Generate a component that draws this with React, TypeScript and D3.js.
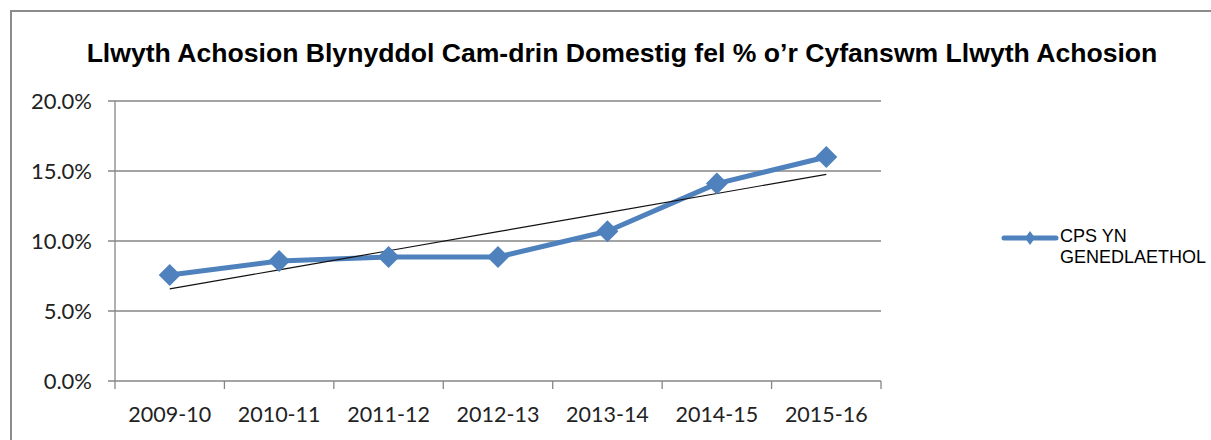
import React, { useEffect, useRef } from "react";
import * as d3 from "d3";

// chart data
const years = ["2009-10", "2010-11", "2011-12", "2012-13", "2013-14", "2014-15", "2015-16"];
const cpsValues = [0.0757, 0.0857, 0.0886, 0.0886, 0.107, 0.141, 0.16];
const yTicks = [0, 0.05, 0.1, 0.15, 0.2];
const seriesName = ["CPS YN", "GENEDLAETHOL"];
const title = "Llwyth Achosion Blynyddol Cam-drin Domestig fel % o’r Cyfanswm Llwyth Achosion";

const App = () => {
  const ref = useRef<SVGSVGElement | null>(null);
  const width = 1211;
  const height = 440;
  const plot = { left: 115, right: 881, top: 101, bottom: 381 };

  const drawChart = () => {
    const svg = d3.select(ref.current);
    const axisColor = "#868686";
    const blue = "#4F81BD";

    // chart frame
    svg
      .append("path")
      .attr("d", `M11,${height} L11,11 L${width},11`)
      .attr("fill", "none")
      .attr("stroke", "#8c8c8c")
      .attr("stroke-width", 2);

    // title
    svg
      .append("text")
      .attr("x", 622)
      .attr("y", 62)
      .attr("text-anchor", "middle")
      .attr("font-family", "Liberation Sans, Arial, sans-serif")
      .attr("font-weight", "bold")
      .attr("font-size", 26.6)
      .attr("fill", "#000")
      .text(title);

    const xScale = d3.scaleBand().domain(years).range([plot.left, plot.right]).padding(0);
    const yScale = d3.scaleLinear().domain([0, 0.2]).range([plot.bottom, plot.top]);
    const cx = (d: string) => (xScale(d) as number) + xScale.bandwidth() / 2;

    // y grid
    svg
      .append("g")
      .selectAll("line")
      .data(yTicks)
      .enter()
      .append("line")
      .attr("x1", plot.left - 7)
      .attr("x2", plot.right)
      .attr("y1", (d) => yScale(d))
      .attr("y2", (d) => yScale(d))
      .attr("stroke", axisColor)
      .attr("stroke-width", 1.3);

    // y axis line
    svg
      .append("line")
      .attr("x1", plot.left)
      .attr("x2", plot.left)
      .attr("y1", plot.top)
      .attr("y2", plot.bottom)
      .attr("stroke", axisColor)
      .attr("stroke-width", 1.3);

    // y labels
    svg
      .append("g")
      .selectAll("text")
      .data(yTicks)
      .enter()
      .append("text")
      .attr("x", 92)
      .attr("y", (d) => yScale(d))
      .attr("dy", "0.36em")
      .attr("text-anchor", "end")
      .attr("font-family", "Lato, sans-serif")
      .attr("font-size", 22)
      .attr("fill", "#222")
      .text((d) => d3.format(".1%")(d));

    // x ticks at band edges
    const edges = years.map((d) => xScale(d) as number).concat([plot.right]);
    svg
      .append("g")
      .selectAll("line")
      .data(edges)
      .enter()
      .append("line")
      .attr("x1", (d) => d)
      .attr("x2", (d) => d)
      .attr("y1", plot.bottom)
      .attr("y2", plot.bottom + 8)
      .attr("stroke", axisColor)
      .attr("stroke-width", 1.3);

    // x labels
    svg
      .append("g")
      .selectAll("text")
      .data(years)
      .enter()
      .append("text")
      .attr("x", (d) => cx(d))
      .attr("y", 422)
      .attr("text-anchor", "middle")
      .attr("font-family", "Lato, sans-serif")
      .attr("font-size", 21.5)
      .attr("fill", "#222")
      .text((d) => d);

    // series line
    const line = d3
      .line<number>()
      .x((d, i) => cx(years[i]))
      .y((d) => yScale(d));

    svg
      .append("path")
      .datum(cpsValues)
      .attr("fill", "none")
      .attr("stroke", blue)
      .attr("stroke-width", 5)
      .attr("stroke-linejoin", "round")
      .attr("d", line);

    // linear trend line (least squares of the series)
    const n = cpsValues.length;
    const xs = d3.range(1, n + 1);
    const mx = d3.mean(xs) as number;
    const my = d3.mean(cpsValues) as number;
    const slope =
      d3.sum(xs, (x, i) => (x - mx) * (cpsValues[i] - my)) / d3.sum(xs, (x) => (x - mx) * (x - mx));
    const trend = xs.map((x) => my + slope * (x - mx));
    svg
      .append("path")
      .datum(trend)
      .attr("fill", "none")
      .attr("stroke", "#111")
      .attr("stroke-width", 1.2)
      .attr("d", line);

    // markers
    const diamond = (x: number, y: number, w: number, h: number) =>
      `M${x},${y - h} L${x + w},${y} L${x},${y + h} L${x - w},${y} Z`;
    svg
      .append("g")
      .selectAll("path")
      .data(cpsValues)
      .enter()
      .append("path")
      .attr("d", (d, i) => diamond(cx(years[i]), yScale(d), 11, 11))
      .attr("fill", blue);

    // legend
    svg
      .append("line")
      .attr("x1", 1004)
      .attr("x2", 1056)
      .attr("y1", 238)
      .attr("y2", 238)
      .attr("stroke", blue)
      .attr("stroke-width", 5)
      .attr("stroke-linecap", "round");
    svg.append("path").attr("d", diamond(1030, 238, 5, 7)).attr("fill", blue);
    svg
      .append("g")
      .selectAll("text")
      .data(seriesName)
      .enter()
      .append("text")
      .attr("x", 1060)
      .attr("y", (d, i) => 242 + i * 21)
      .attr("font-family", "Liberation Sans, Arial, sans-serif")
      .attr("font-size", 18)
      .attr("fill", "#000")
      .text((d) => d);
  };

  useEffect(() => {
    drawChart();
    return () => {
      d3.select(ref.current).selectAll("*").remove();
    };
  }, []);

  return (
    <svg
      ref={ref}
      width={width}
      height={height}
      style={{ position: "absolute", left: 0, top: 0, background: "#fff" }}
    />
  );
};

export default App;
